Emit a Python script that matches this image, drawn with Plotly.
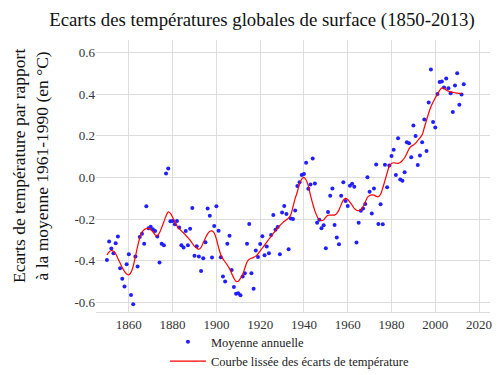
import plotly.graph_objects as go

years = list(range(1850, 2014))
annual = [-0.395, -0.307, -0.34, -0.363, -0.315, -0.283, -0.435, -0.485, -0.523, -0.416,
          -0.368, -0.563, -0.608, -0.379, -0.427, -0.285, -0.269, -0.317, -0.138, -0.243,
          -0.236, -0.248, -0.256, -0.283, -0.408, -0.317, -0.325, 0.02, 0.044, -0.21,
          -0.208, -0.224, -0.208, -0.239, -0.325, -0.336, -0.256, -0.325, -0.245, -0.146,
          -0.375, -0.33, -0.379, -0.448, -0.387, -0.31, -0.148, -0.183, -0.384, -0.232,
          -0.138, -0.255, -0.382, -0.475, -0.499, -0.317, -0.279, -0.443, -0.525, -0.558,
          -0.555, -0.565, -0.475, -0.459, -0.317, -0.223, -0.459, -0.534, -0.35, -0.381,
          -0.319, -0.282, -0.373, -0.331, -0.363, -0.276, -0.18, -0.25, -0.237, -0.368,
          -0.168, -0.137, -0.175, -0.344, -0.196, -0.199, -0.158, -0.041, -0.022, 0.012,
          0.017, 0.071, -0.054, -0.033, 0.092, -0.028, -0.217, -0.202, -0.243, -0.229,
          -0.339, -0.165, -0.087, -0.052, -0.228, -0.287, -0.32, -0.087, -0.022, -0.113,
          -0.137, -0.039, -0.03, -0.044, -0.312, -0.217, -0.159, -0.148, -0.127, 0.001,
          -0.068, -0.173, -0.052, 0.063, -0.223, -0.128, -0.224, 0.061, -0.046, 0.058,
          0.103, 0.133, 0.012, 0.189, -0.009, -0.015, 0.025, 0.17, 0.165, 0.097,
          0.25, 0.2, 0.06, 0.106, 0.169, 0.279, 0.127, 0.36, 0.518, 0.266,
          0.24, 0.401, 0.458, 0.461, 0.432, 0.475, 0.429, 0.405, 0.315, 0.442,
          0.501, 0.349, 0.399, 0.448]

smooth_years = list(range(1850, 2013))
smooth = [-0.371, -0.357, -0.350, -0.354, -0.366, -0.388, -0.410, -0.432, -0.450, -0.462,
          -0.467, -0.455, -0.425, -0.380, -0.330, -0.290, -0.262, -0.250, -0.245, -0.243,
          -0.250, -0.260, -0.275, -0.280, -0.265, -0.240, -0.212, -0.185, -0.165, -0.172,
          -0.190, -0.212, -0.232, -0.245, -0.256, -0.266, -0.277, -0.288, -0.300, -0.316,
          -0.330, -0.338, -0.344, -0.335, -0.312, -0.290, -0.270, -0.258, -0.256, -0.266,
          -0.295, -0.335, -0.370, -0.390, -0.405, -0.420, -0.437, -0.460, -0.483, -0.498,
          -0.497, -0.483, -0.465, -0.435, -0.405, -0.392, -0.387, -0.383, -0.377, -0.366,
          -0.352, -0.338, -0.324, -0.310, -0.296, -0.282, -0.268, -0.255, -0.242, -0.230,
          -0.220, -0.210, -0.202, -0.194, -0.178, -0.140, -0.100, -0.068, -0.030, -0.007,
          0.001, -0.012, -0.040, -0.085, -0.125, -0.160, -0.186, -0.202, -0.207, -0.203,
          -0.190, -0.181, -0.180, -0.180, -0.180, -0.172, -0.155, -0.130, -0.108, -0.100,
          -0.105, -0.118, -0.132, -0.148, -0.157, -0.159, -0.153, -0.140, -0.118, -0.095,
          -0.086, -0.083, -0.084, -0.090, -0.092, -0.080, -0.050, -0.015, 0.022, 0.055,
          0.068, 0.071, 0.069, 0.068, 0.072, 0.082, 0.095, 0.115, 0.138, 0.150,
          0.156, 0.165, 0.178, 0.190, 0.205, 0.240, 0.275, 0.310, 0.340, 0.362,
          0.383, 0.400, 0.418, 0.430, 0.428, 0.420, 0.414, 0.411, 0.409, 0.407,
          0.405, 0.404, 0.403]

x_ticks = [1860, 1880, 1900, 1920, 1940, 1960, 1980, 2000, 2020]
y_ticks = [-0.6, -0.4, -0.2, 0.0, 0.2, 0.4, 0.6]
y_ticktext = ["-0.6", "-0.4", "-0.2", "0.0", "0.2", "0.4", "0.6"]
y_title = "Ecarts de température par rapport<br>à la moyenne 1961-1990 (en °C)"

FONT = "Liberation Serif, Times New Roman, serif"

fig = go.Figure()
fig.add_trace(go.Scatter(x=years, y=annual, mode="markers", name="Moyenne annuelle",
                         marker=dict(color="#1f1fff", size=4)))
fig.add_trace(go.Scatter(x=smooth_years, y=smooth, mode="lines",
                         name="Courbe lissée des écarts de température",
                         line=dict(color="#ff0000", width=1.2, shape="spline")))

fig.update_layout(
    width=500, height=375,
    margin=dict(l=96, r=10, t=40, b=63, autoexpand=False),
    paper_bgcolor="white", plot_bgcolor="white",
    font=dict(family=FONT, size=13, color="#222"),
    title=dict(text="Ecarts des températures globales de surface (1850-2013)",
               x=0.524, xanchor="center", y=0.947, yanchor="middle",
               font=dict(family=FONT, size=18.8, color="#111")),
    xaxis=dict(range=[1845, 2025], tickvals=x_ticks, showgrid=True, automargin=False,
               gridcolor="#dddddd", gridwidth=1, zeroline=False, showline=True,
               linecolor="#dddddd", ticks="",
               tickfont=dict(family=FONT, size=13, color="#333")),
    yaxis=dict(range=[-0.645, 0.66], tickvals=y_ticks, ticktext=y_ticktext,
               showgrid=True, gridcolor="#dddddd", gridwidth=1, zeroline=False,
               automargin=False, showline=False, ticks="",
               tickfont=dict(family=FONT, size=13, color="#333")),
    legend=dict(orientation="v", x=0.175, xanchor="left", y=-0.056, yanchor="top",
                itemwidth=36,
                font=dict(family=FONT, size=12.5, color="#222"), bgcolor="rgba(0,0,0,0)",
                tracegroupgap=0),
    showlegend=True,
)

fig.add_annotation(text=y_title, xref="paper", yref="paper", x=0, y=0.537,
                   xanchor="center", yanchor="middle", xshift=-65, textangle=-90,
                   showarrow=False, align="center",
                   font=dict(family=FONT, size=17.5, color="#111"))

fig.write_html("out.html", config={"displayModeBar": False},
               post_script="document.body.style.margin='0px';")
